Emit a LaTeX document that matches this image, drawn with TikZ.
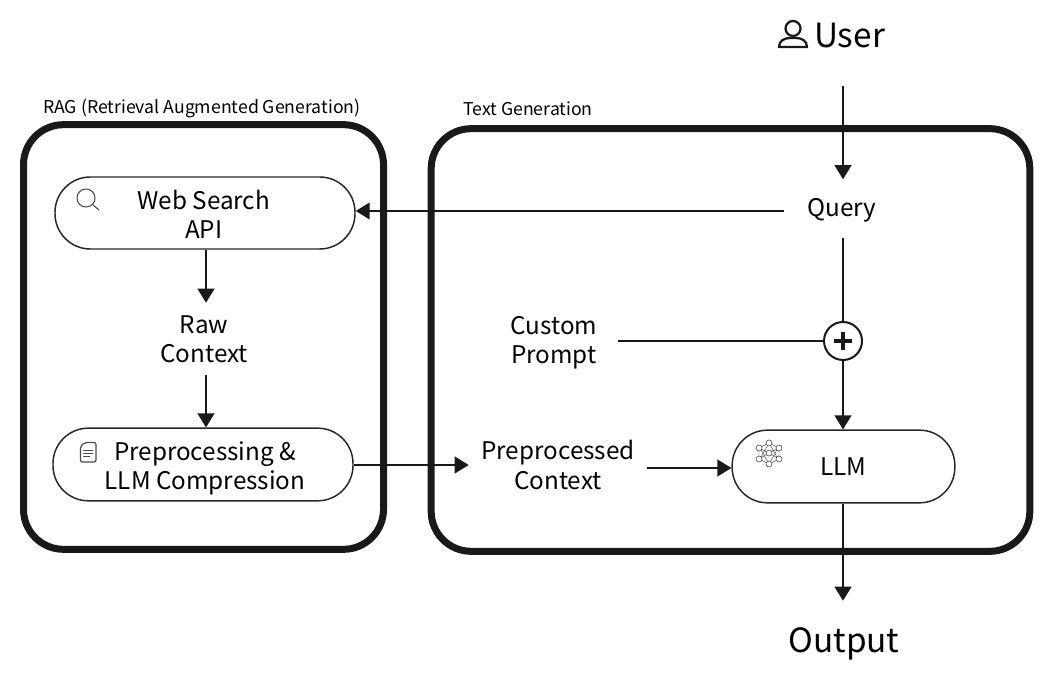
\documentclass[tikz,border=0pt]{standalone}
\usepackage{fontspec}
\setmainfont{Noto Sans CJK KR}
\usetikzlibrary{arrows.meta}
\newcommand{\lowerby}[2]{\raisebox{-#1}[\height][\depth]{#2}}
\tikzset{
  x=0.75pt,y=-0.75pt,
  bigbox/.style={draw=black!90,line width=5.25pt,rounded corners=30pt,inner sep=0pt,anchor=center},
  pill/.style={draw=black!85,line width=1.1pt,rounded corners=26.5pt,inner sep=0pt,align=center,font=\fontsize{18.2}{21.8}\selectfont},
  txt/.style={inner sep=0pt,align=center,font=\fontsize{18.2}{21.8}\selectfont},
  title/.style={inner sep=0pt,anchor=west,font=\fontsize{13.25}{15}\selectfont},
  big/.style={inner sep=0pt,font=\fontsize{25}{30}\selectfont},
  conn/.style={draw=black!90,line width=1.5pt},
  arr/.style={conn,-{Triangle[length=10.5pt,width=12.5pt]}},
  icon/.style={draw=black!70,line width=0.6pt,line join=round,line cap=round},
}
\begin{document}
\begin{tikzpicture}
\useasboundingbox (0,0) rectangle (1060,680);
% containers
\node[bigbox,minimum width=270pt,minimum height=318.5pt] (rag) at (203.5,337) {};
\node[bigbox,minimum width=449pt,minimum height=317pt] (gen) at (730.5,340) {};
\node[title] (ragt) at (43,108) {RAG (Retrieval Augmented Generation)};
\node[title] (gent) at (463,109) {Text Generation};
% boxes
\node[pill,minimum width=225pt,minimum height=54pt] (web) at (205,213) {\lowerby{1.2pt}{\hspace{-2pt}Web Search}\\\lowerby{1.2pt}{\hspace{-2pt}API}};
\node[pill,minimum width=225pt,minimum height=54.5pt] (pre) at (203,464.5) {\lowerby{3pt}{\hspace{3pt}Preprocessing \&}\\\lowerby{3pt}{\hspace{3pt}LLM Compression}};
\node[pill,minimum width=167pt,minimum height=54.5pt] (llm) at (843.5,466.5) {LLM};
% free labels
\node[big,minimum width=80pt,minimum height=78pt] (user) at (849.5,34) {\lowerby{0.8pt}{User}};
\node[txt,minimum width=86pt,minimum height=43.5pt] (query) at (842,208.5) {\lowerby{1.7pt}{Query}};
\node[txt,minimum width=80pt,minimum height=54pt] (raw) at (204,339) {Raw\\Context};
\node[txt,minimum width=96pt,minimum height=45pt] (custom) at (554,339) {\lowerby{3pt}{Custom}\\\lowerby{3pt}{Prompt}};
\node[txt,minimum width=133.5pt,minimum height=45pt] (ctx) at (558,465) {Preprocessed\\Context};
\node[big,minimum width=80pt,minimum height=58.5pt] (out) at (844,640) {\lowerby{3pt}{Output}};
\node[draw=black!90,line width=1.5pt,circle,minimum size=28.5pt,inner sep=0pt] (plus) at (843,341) {};
\draw[line width=2.3pt,black!90] (plus.center) ++(-9,0) -- ++(18,0);
\draw[line width=2.3pt,black!90] (plus.center) ++(0,-9) -- ++(0,18);
% connectors
\draw[arr] (843,0 |- user.south) -- (843,0 |- query.north);
\draw[arr] (query.west |- 0,211) -- ([yshift=1.5pt]web.east);
\draw[conn] (843,0 |- query.south) -- (plus.north);
\draw[conn] (custom.east |- plus.west) -- (plus.west);
\draw[arr] (plus.south) -- (843,0 |- llm.north);
\draw[arr] (206,0 |- web.south) -- (206,0 |- raw.north);
\draw[arr] (206,0 |- raw.south) -- (206,0 |- pre.north);
\draw[arr] (pre.east |- ctx.west) -- (ctx.west);
\draw[arr] (ctx.east |- 0,468) -- (llm.west |- 0,468);
\draw[arr] (843,0 |- llm.south) -- (843,0 |- out.north);
% user icon
\draw[black!90,line width=1.7pt] (793,28.5) circle (7.5);
\draw[black!90,line width=1.7pt,line join=round] (779,47) .. controls (779,41) and (784,38) .. (790,38) -- (796,38) .. controls (802,38) and (807,41) .. (807,47) -- cycle;
% magnifier
\draw[icon,line width=0.8pt] (86,198) circle (9);
\draw[icon,line width=0.8pt] (92.5,204.5) -- (99,210);
% document
\draw[icon,line width=0.9pt,rounded corners=1.5pt] (80.5,446) -- (85,442.5) -- (96,442.5) -- (96,462) -- (80.5,462) -- cycle;
\draw[icon] (83.5,450) -- (93,450) (83.5,453) -- (93,453) (83.5,456) -- (90,456);
% network
\draw[icon,line width=0.35pt] (769,443) -- (759,448) -- (759,459) -- (769,464) -- (779,459) -- (779,448) -- cycle
  (759,448) -- (769,453) -- (779,448) (759,459) -- (769,453) -- (779,459)
  (769,443) -- (760,459) (769,443) -- (778,459) (769,464) -- (760,448) (769,464) -- (778,448);
\foreach \p/\q in {769/443,759/448,779/448,759/459,779/459,769/464,769/453}{\draw[icon,line width=0.45pt,fill=white] (\p,\q) circle (3);}
\end{tikzpicture}
\end{document}
